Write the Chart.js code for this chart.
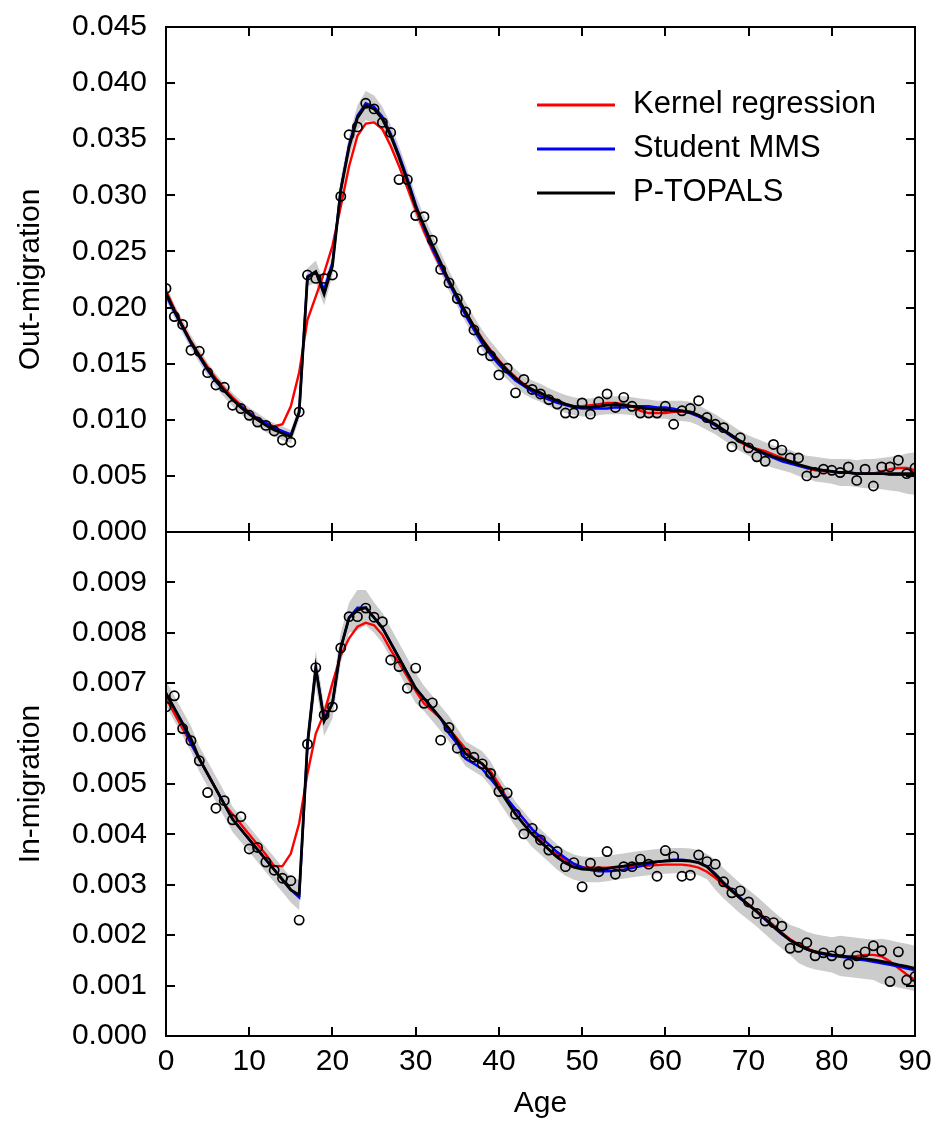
<!DOCTYPE html>
<html>
<head>
<meta charset="utf-8">
<script src="https://cdn.jsdelivr.net/npm/chart.js@4.4.1/dist/chart.umd.min.js"></script>
<style>
  body { margin: 0; background: #fff; }
  #wrap { position: relative; width: 939px; height: 1135px; }
  canvas { position: absolute; left: 0; }
  #outChart { top: 0; }
  #inChart { top: 500px; }
</style>
</head>
<body>
<div id="wrap">
  <canvas id="outChart" width="939" height="560"></canvas>
  <canvas id="inChart" width="939" height="635"></canvas>
</div>
<script>
// ages 0..90, one value per year of age
const ages = Array.from({ length: 91 }, (_, i) => i);
const ageTicks = [0, 10, 20, 30, 40, 50, 60, 70, 80, 90];
const outTicks = [0, 0.005, 0.010, 0.015, 0.020, 0.025, 0.030, 0.035, 0.040, 0.045];
const inTicks = [0, 0.001, 0.002, 0.003, 0.004, 0.005, 0.006, 0.007, 0.008, 0.009];

// ---- Out-migration ----
const outObs = [
  0.0217, 0.0192, 0.0185, 0.0162, 0.0161, 0.0142, 0.0131, 0.0129, 0.0113, 0.0110,
  0.0104, 0.0098, 0.0095, 0.0090, 0.0082, 0.0080, 0.0107, 0.0229, 0.0226, 0.0226,
  0.0229, 0.0299, 0.0354, 0.0361, 0.0382, 0.0377, 0.0365, 0.0356, 0.0314, 0.0314,
  0.0282, 0.0281, 0.0260, 0.0234, 0.0222, 0.0208, 0.0196, 0.0180, 0.0162, 0.0157,
  0.0140, 0.0146, 0.0124, 0.0136, 0.0127, 0.0123, 0.0118, 0.0114, 0.0106, 0.0106,
  0.0115, 0.0105, 0.0116, 0.0123, 0.0111, 0.0120, 0.0112, 0.0106, 0.0106, 0.0106,
  0.0112, 0.0096, 0.0108, 0.0110, 0.0117, 0.0102, 0.0096, 0.0093, 0.0076, 0.0084,
  0.0075, 0.0067, 0.0063, 0.0078, 0.0073, 0.0066, 0.0066, 0.0050, 0.0053, 0.0056,
  0.0055, 0.0053, 0.0058, 0.0046, 0.0056, 0.0041, 0.0058, 0.0058, 0.0064, 0.0052,
  0.0057
];
const outTopals = [
  0.0213, 0.0197, 0.0183, 0.0169, 0.0157, 0.0145, 0.0135, 0.0126, 0.0118, 0.0111,
  0.0105, 0.0100, 0.0095, 0.0091, 0.0088, 0.0085, 0.0107, 0.0227, 0.0232, 0.0212,
  0.0237, 0.0305, 0.0343, 0.0369, 0.0380, 0.0377, 0.0368, 0.0353, 0.0334, 0.0313,
  0.0290, 0.0273, 0.0256, 0.0240, 0.0224, 0.0210, 0.0196, 0.0183, 0.0171, 0.0161,
  0.0152, 0.0144, 0.0137, 0.0131, 0.0127, 0.0124, 0.0120, 0.0117, 0.0114, 0.0112,
  0.0111, 0.0111, 0.0112, 0.0113, 0.0113, 0.0113, 0.0112, 0.0111, 0.0110, 0.0109,
  0.0109, 0.0108, 0.0108, 0.0107, 0.0104, 0.0100, 0.0096, 0.0091, 0.0086, 0.0081,
  0.0077, 0.0073, 0.0070, 0.0067, 0.0065, 0.0063, 0.0060, 0.0058, 0.0056, 0.0055,
  0.0054, 0.0053, 0.0053, 0.0052, 0.0052, 0.0052, 0.0052, 0.0052, 0.0052, 0.0052,
  0.0052
];
const outMms = [
  0.0211, 0.0196, 0.0182, 0.0168, 0.0156, 0.0144, 0.0134, 0.0126, 0.0118, 0.0112,
  0.0106, 0.0101, 0.0097, 0.0093, 0.0090, 0.0087, 0.0106, 0.0228, 0.0232, 0.0216,
  0.0240, 0.0305, 0.0345, 0.0371, 0.0382, 0.0379, 0.0370, 0.0355, 0.0336, 0.0315,
  0.0292, 0.0271, 0.0253, 0.0237, 0.0222, 0.0207, 0.0193, 0.0180, 0.0168, 0.0158,
  0.0149, 0.0142, 0.0135, 0.0130, 0.0125, 0.0121, 0.0118, 0.0115, 0.0113, 0.0111,
  0.0110, 0.0110, 0.0110, 0.0110, 0.0111, 0.0111, 0.0112, 0.0112, 0.0112, 0.0111,
  0.0111, 0.0110, 0.0108, 0.0106, 0.0103, 0.0099, 0.0095, 0.0090, 0.0085, 0.0081,
  0.0077, 0.0073, 0.0069, 0.0066, 0.0063, 0.0061, 0.0059, 0.0057, 0.0056, 0.0055,
  0.0054, 0.0053, 0.0053, 0.0052, 0.0052, 0.0052, 0.0052, 0.0051, 0.0051, 0.0051,
  0.0051
];
const outKernel = [
  0.0215, 0.0199, 0.0184, 0.0170, 0.0158, 0.0147, 0.0137, 0.0128, 0.0120, 0.0113,
  0.0107, 0.0101, 0.0097, 0.0094, 0.0096, 0.0112, 0.0142, 0.0189, 0.0210, 0.0231,
  0.0255, 0.0290, 0.0326, 0.0353, 0.0364, 0.0365, 0.0359, 0.0344, 0.0326, 0.0307,
  0.0287, 0.0268, 0.0251, 0.0236, 0.0222, 0.0209, 0.0196, 0.0184, 0.0172, 0.0162,
  0.0153, 0.0145, 0.0138, 0.0132, 0.0127, 0.0123, 0.0120, 0.0117, 0.0114, 0.0112,
  0.0112, 0.0113, 0.0114, 0.0115, 0.0115, 0.0114, 0.0112, 0.0108, 0.0106, 0.0106,
  0.0106, 0.0107, 0.0107, 0.0106, 0.0103, 0.0100, 0.0096, 0.0091, 0.0085, 0.0080,
  0.0076, 0.0074, 0.0072, 0.0069, 0.0066, 0.0063, 0.0060, 0.0057, 0.0055, 0.0054,
  0.0054, 0.0053, 0.0053, 0.0052, 0.0052, 0.0052, 0.0054, 0.0056, 0.0057, 0.0057,
  0.0055
];
const outUpper = [
  0.0220, 0.0203, 0.0189, 0.0175, 0.0163, 0.0151, 0.0141, 0.0132, 0.0124, 0.0117,
  0.0111, 0.0106, 0.0101, 0.0097, 0.0094, 0.0091, 0.0114, 0.0235, 0.0242, 0.0222,
  0.0246, 0.0315, 0.0353, 0.0380, 0.0393, 0.0389, 0.0379, 0.0363, 0.0344, 0.0323,
  0.0300, 0.0282, 0.0265, 0.0249, 0.0233, 0.0219, 0.0205, 0.0192, 0.0180, 0.0170,
  0.0161, 0.0152, 0.0145, 0.0139, 0.0135, 0.0132, 0.0128, 0.0125, 0.0122, 0.0120,
  0.0119, 0.0119, 0.0120, 0.0121, 0.0121, 0.0121, 0.0120, 0.0119, 0.0118, 0.0117,
  0.0117, 0.0117, 0.0117, 0.0116, 0.0113, 0.0109, 0.0105, 0.0100, 0.0095, 0.0090,
  0.0086, 0.0083, 0.0080, 0.0077, 0.0075, 0.0073, 0.0070, 0.0068, 0.0067, 0.0066,
  0.0065, 0.0065, 0.0065, 0.0064, 0.0065, 0.0065, 0.0066, 0.0067, 0.0068, 0.0070,
  0.0071
];
const outLower = [
  0.0206, 0.0191, 0.0177, 0.0163, 0.0151, 0.0139, 0.0129, 0.0120, 0.0112, 0.0105,
  0.0099, 0.0094, 0.0089, 0.0085, 0.0082, 0.0079, 0.0100, 0.0219, 0.0222, 0.0202,
  0.0228, 0.0295, 0.0333, 0.0358, 0.0367, 0.0365, 0.0357, 0.0343, 0.0324, 0.0303,
  0.0280, 0.0264, 0.0247, 0.0231, 0.0215, 0.0201, 0.0187, 0.0174, 0.0162, 0.0152,
  0.0143, 0.0136, 0.0129, 0.0123, 0.0119, 0.0116, 0.0112, 0.0109, 0.0106, 0.0104,
  0.0103, 0.0103, 0.0104, 0.0105, 0.0105, 0.0105, 0.0104, 0.0103, 0.0102, 0.0101,
  0.0101, 0.0099, 0.0099, 0.0098, 0.0095, 0.0091, 0.0087, 0.0082, 0.0077, 0.0072,
  0.0068, 0.0063, 0.0060, 0.0057, 0.0055, 0.0053, 0.0050, 0.0048, 0.0045, 0.0044,
  0.0043, 0.0041, 0.0041, 0.0040, 0.0039, 0.0039, 0.0038, 0.0037, 0.0036, 0.0034,
  0.0033
];

// ---- In-migration ----
const inObs = [
  0.00653, 0.00675, 0.00610, 0.00586, 0.00546, 0.00483, 0.00452, 0.00467, 0.00429, 0.00435,
  0.00371, 0.00374, 0.00345, 0.00329, 0.00313, 0.00308, 0.00230, 0.00579, 0.00731, 0.00637,
  0.00653, 0.00770, 0.00832, 0.00832, 0.00849, 0.00831, 0.00822, 0.00746, 0.00733, 0.00690,
  0.00730, 0.00660, 0.00661, 0.00587, 0.00612, 0.00571, 0.00561, 0.00553, 0.00540, 0.00521,
  0.00485, 0.00482, 0.00440, 0.00401, 0.00412, 0.00389, 0.00369, 0.00366, 0.00336, 0.00344,
  0.00296, 0.00343, 0.00326, 0.00366, 0.00321, 0.00336, 0.00336, 0.00351, 0.00341, 0.00317,
  0.00368, 0.00356, 0.00317, 0.00319, 0.00359, 0.00346, 0.00341, 0.00306, 0.00284, 0.00288,
  0.00266, 0.00243, 0.00228, 0.00225, 0.00218, 0.00174, 0.00176, 0.00185, 0.00159, 0.00165,
  0.00159, 0.00169, 0.00143, 0.00159, 0.00167, 0.00179, 0.00169, 0.00108, 0.00167, 0.00111,
  0.00118
];
const inTopals = [
  0.00680, 0.00650, 0.00620, 0.00590, 0.00550, 0.00520, 0.00490, 0.00460, 0.00430, 0.00410,
  0.00390, 0.00370, 0.00350, 0.00330, 0.00310, 0.00290, 0.00280, 0.00580, 0.00730, 0.00625,
  0.00660, 0.00770, 0.00830, 0.00845, 0.00850, 0.00830, 0.00810, 0.00780, 0.00750, 0.00720,
  0.00690, 0.00670, 0.00650, 0.00630, 0.00610, 0.00585, 0.00560, 0.00550, 0.00540, 0.00520,
  0.00490, 0.00465, 0.00440, 0.00420, 0.00400, 0.00385, 0.00370, 0.00355, 0.00343, 0.00335,
  0.00331, 0.00330, 0.00330, 0.00332, 0.00335, 0.00337, 0.00340, 0.00342, 0.00344, 0.00346,
  0.00347, 0.00348, 0.00348, 0.00347, 0.00344, 0.00336, 0.00320, 0.00303, 0.00288, 0.00273,
  0.00260, 0.00247, 0.00232, 0.00217, 0.00203, 0.00190, 0.00180, 0.00172, 0.00167, 0.00164,
  0.00161, 0.00159, 0.00157, 0.00155, 0.00153, 0.00151, 0.00148, 0.00145, 0.00141, 0.00138,
  0.00134
];
const inMms = [
  0.00680, 0.00650, 0.00620, 0.00580, 0.00550, 0.00520, 0.00490, 0.00460, 0.00430, 0.00410,
  0.00390, 0.00370, 0.00350, 0.00330, 0.00310, 0.00290, 0.00275, 0.00580, 0.00730, 0.00630,
  0.00660, 0.00770, 0.00830, 0.00850, 0.00850, 0.00830, 0.00810, 0.00780, 0.00750, 0.00720,
  0.00690, 0.00670, 0.00650, 0.00630, 0.00600, 0.00580, 0.00550, 0.00540, 0.00530, 0.00510,
  0.00490, 0.00470, 0.00450, 0.00430, 0.00410, 0.00395, 0.00380, 0.00365, 0.00353, 0.00342,
  0.00335, 0.00329, 0.00327, 0.00327, 0.00328, 0.00330, 0.00333, 0.00337, 0.00341, 0.00345,
  0.00348, 0.00350, 0.00350, 0.00348, 0.00344, 0.00337, 0.00322, 0.00305, 0.00290, 0.00275,
  0.00260, 0.00246, 0.00231, 0.00216, 0.00202, 0.00190, 0.00180, 0.00172, 0.00166, 0.00162,
  0.00159, 0.00157, 0.00155, 0.00152, 0.00150, 0.00147, 0.00144, 0.00141, 0.00138, 0.00134,
  0.00131
];
const inKernel = [
  0.00670, 0.00640, 0.00610, 0.00580, 0.00550, 0.00520, 0.00490, 0.00460, 0.00440, 0.00420,
  0.00400, 0.00380, 0.00360, 0.00337, 0.00337, 0.00362, 0.00422, 0.00521, 0.00600, 0.00640,
  0.00700, 0.00755, 0.00789, 0.00812, 0.00820, 0.00815, 0.00796, 0.00766, 0.00740, 0.00713,
  0.00685, 0.00660, 0.00645, 0.00630, 0.00610, 0.00590, 0.00570, 0.00550, 0.00540, 0.00525,
  0.00500, 0.00470, 0.00450, 0.00430, 0.00410, 0.00390, 0.00370, 0.00360, 0.00350, 0.00340,
  0.00335, 0.00334, 0.00334, 0.00334, 0.00335, 0.00335, 0.00336, 0.00337, 0.00338, 0.00339,
  0.00340, 0.00340, 0.00340, 0.00338, 0.00334, 0.00326, 0.00314, 0.00300, 0.00287, 0.00274,
  0.00261, 0.00248, 0.00234, 0.00220, 0.00205, 0.00192, 0.00182, 0.00174, 0.00168, 0.00164,
  0.00161, 0.00158, 0.00158, 0.00159, 0.00161, 0.00161, 0.00158, 0.00148, 0.00135, 0.00122,
  0.00111
];
const inUpper = [
  0.00705, 0.00675, 0.00645, 0.00615, 0.00575, 0.00545, 0.00515, 0.00485, 0.00455, 0.00435,
  0.00415, 0.00395, 0.00375, 0.00355, 0.00335, 0.00315, 0.00310, 0.00610, 0.00765, 0.00655,
  0.00690, 0.00800, 0.00860, 0.00885, 0.00885, 0.00860, 0.00840, 0.00810, 0.00780, 0.00750,
  0.00720, 0.00695, 0.00675, 0.00655, 0.00635, 0.00610, 0.00585, 0.00575, 0.00565, 0.00545,
  0.00515, 0.00490, 0.00465, 0.00445, 0.00425, 0.00410, 0.00395, 0.00380, 0.00368, 0.00360,
  0.00356, 0.00355, 0.00355, 0.00357, 0.00360, 0.00362, 0.00365, 0.00367, 0.00369, 0.00371,
  0.00372, 0.00373, 0.00373, 0.00372, 0.00369, 0.00361, 0.00350, 0.00333, 0.00318, 0.00303,
  0.00290, 0.00277, 0.00262, 0.00247, 0.00233, 0.00220, 0.00215, 0.00207, 0.00202, 0.00199,
  0.00196, 0.00199, 0.00197, 0.00195, 0.00193, 0.00191, 0.00193, 0.00190, 0.00186, 0.00183,
  0.00179
];
const inLower = [
  0.00655, 0.00625, 0.00595, 0.00565, 0.00525, 0.00495, 0.00465, 0.00435, 0.00405, 0.00385,
  0.00365, 0.00345, 0.00325, 0.00305, 0.00285, 0.00265, 0.00250, 0.00550, 0.00695, 0.00595,
  0.00630, 0.00740, 0.00800, 0.00805, 0.00815, 0.00800, 0.00780, 0.00750, 0.00720, 0.00690,
  0.00660, 0.00645, 0.00625, 0.00605, 0.00585, 0.00560, 0.00535, 0.00525, 0.00515, 0.00495,
  0.00465, 0.00440, 0.00415, 0.00395, 0.00375, 0.00360, 0.00345, 0.00330, 0.00318, 0.00310,
  0.00306, 0.00305, 0.00305, 0.00307, 0.00310, 0.00312, 0.00315, 0.00317, 0.00319, 0.00321,
  0.00322, 0.00323, 0.00323, 0.00322, 0.00319, 0.00311, 0.00290, 0.00273, 0.00258, 0.00243,
  0.00230, 0.00217, 0.00202, 0.00187, 0.00173, 0.00160, 0.00145, 0.00137, 0.00132, 0.00129,
  0.00126, 0.00119, 0.00117, 0.00115, 0.00113, 0.00111, 0.00103, 0.00100, 0.00096, 0.00093,
  0.00089
];

const legendItems = [
  { label: "Kernel regression", color: "#ff0000" },
  { label: "Student MMS", color: "#0000ff" },
  { label: "P-TOPALS", color: "#000000" },
];

const FONT = "'Liberation Sans', Arial, Helvetica, sans-serif";
Chart.defaults.font.family = FONT;
Chart.defaults.font.size = 30;
Chart.defaults.color = "#000";

// box round the plot area with tick marks pointing inwards
const frameAndTicks = {
  id: "frameAndTicks",
  afterDatasetsDraw(chart) {
    const { ctx, chartArea: a, scales } = chart;
    ctx.save();
    ctx.strokeStyle = "#000";
    ctx.lineWidth = 2;
    ctx.strokeRect(a.left, a.top, a.right - a.left, a.bottom - a.top);
    ctx.beginPath();
    ageTicks.forEach((v) => {
      const x = Math.round(scales.x.getPixelForValue(v));
      ctx.moveTo(x, a.bottom);
      ctx.lineTo(x, a.bottom - 9);
      ctx.moveTo(x, a.top);
      ctx.lineTo(x, a.top + 9);
    });
    scales.y.ticks.forEach((t) => {
      const y = Math.round(scales.y.getPixelForValue(t.value));
      ctx.moveTo(a.left, y);
      ctx.lineTo(a.left + 9, y);
      ctx.moveTo(a.right, y);
      ctx.lineTo(a.right - 9, y);
    });
    ctx.stroke();
    ctx.restore();
  },
};

// legend inside the top panel
const legendBox = {
  id: "legendBox",
  afterDatasetsDraw(chart) {
    const { ctx } = chart;
    ctx.save();
    ctx.font = "31px " + FONT;
    ctx.textBaseline = "middle";
    legendItems.forEach((item, i) => {
      const y = 105 + i * 44;
      ctx.strokeStyle = item.color;
      ctx.lineWidth = 3;
      ctx.beginPath();
      ctx.moveTo(537, y);
      ctx.lineTo(615, y);
      ctx.stroke();
      ctx.fillStyle = "#000";
      ctx.fillText(item.label, 633, y - 1);
    });
    ctx.restore();
  },
};

function pts(vals) {
  return ages.map((a, i) => ({ x: a, y: vals[i] }));
}

function panelDatasets(obs, topals, mms, kernel, upper, lower) {
  return [
    {
      label: "Observed",
      data: pts(obs),
      showLine: false,
      pointRadius: 4.6,
      pointBorderWidth: 1.7,
      pointBorderColor: "#000",
      pointBackgroundColor: "rgba(0,0,0,0)",
      order: 0,
    },
    { label: "P-TOPALS", data: pts(topals), borderColor: "#000", borderWidth: 2.8, pointRadius: 0, order: 1 },
    { label: "Student MMS", data: pts(mms), borderColor: "#0000ff", borderWidth: 2.4, pointRadius: 0, order: 2 },
    { label: "Kernel regression", data: pts(kernel), borderColor: "#ff0000", borderWidth: 2.4, pointRadius: 0, order: 3 },
    {
      label: "band upper",
      data: pts(upper),
      borderColor: "rgba(0,0,0,0)",
      borderWidth: 1,
      pointRadius: 0,
      backgroundColor: "#cccccc",
      fill: "+1",
      order: 4,
    },
    { label: "band lower", data: pts(lower), borderColor: "rgba(0,0,0,0)", borderWidth: 1, pointRadius: 0, fill: false, order: 5 },
  ];
}

function makePanel(id, datasets, opts) {
  return new Chart(document.getElementById(id), {
    type: "line",
    data: { datasets: datasets },
    options: {
      responsive: false,
      animation: false,
      devicePixelRatio: 1,
      events: [],
      layout: { padding: opts.padding },
      elements: { line: { tension: 0 } },
      plugins: { legend: { display: false }, tooltip: { enabled: false } },
      scales: {
        x: {
          type: "linear",
          min: 0,
          max: 90,
          display: opts.showX,
          afterBuildTicks: (s) => { s.ticks = ageTicks.map((v) => ({ value: v })); },
          afterFit: (s) => {
            if (opts.showX) s.height = 99;
            s.paddingLeft = 0;
            s.paddingRight = 0;
          },
          grid: { display: false, drawTicks: false },
          border: { display: false },
          ticks: { padding: 8, maxRotation: 0 },
          title: { display: true, text: "Age", padding: { top: 0, bottom: 13 } },
        },
        y: {
          type: "linear",
          min: 0,
          max: opts.yMax,
          afterBuildTicks: (s) => { s.ticks = opts.yTicks.map((v) => ({ value: v })); },
          afterFit: (s) => {
            s.width = 166;
            s.paddingTop = 0;
            s.paddingBottom = 0;
          },
          grid: { display: false, drawTicks: false },
          border: { display: false },
          ticks: { padding: 19, callback: (v) => Number(v).toFixed(3) },
          title: { display: true, text: opts.yTitle, padding: { top: 13, bottom: 0 } },
        },
      },
    },
    plugins: opts.plugins,
  });
}

makePanel("outChart", panelDatasets(outObs, outTopals, outMms, outKernel, outUpper, outLower), {
  padding: { top: 27, right: 24, bottom: 28, left: 0 },
  showX: false,
  yMax: 0.045,
  yTicks: outTicks,
  yTitle: "Out-migration",
  plugins: [frameAndTicks, legendBox],
});

makePanel("inChart", panelDatasets(inObs, inTopals, inMms, inKernel, inUpper, inLower), {
  padding: { top: 32, right: 24, bottom: 0, left: 0 },
  showX: true,
  yMax: 0.010,
  yTicks: inTicks,
  yTitle: "In-migration",
  plugins: [frameAndTicks],
});
</script>
</body>
</html>
